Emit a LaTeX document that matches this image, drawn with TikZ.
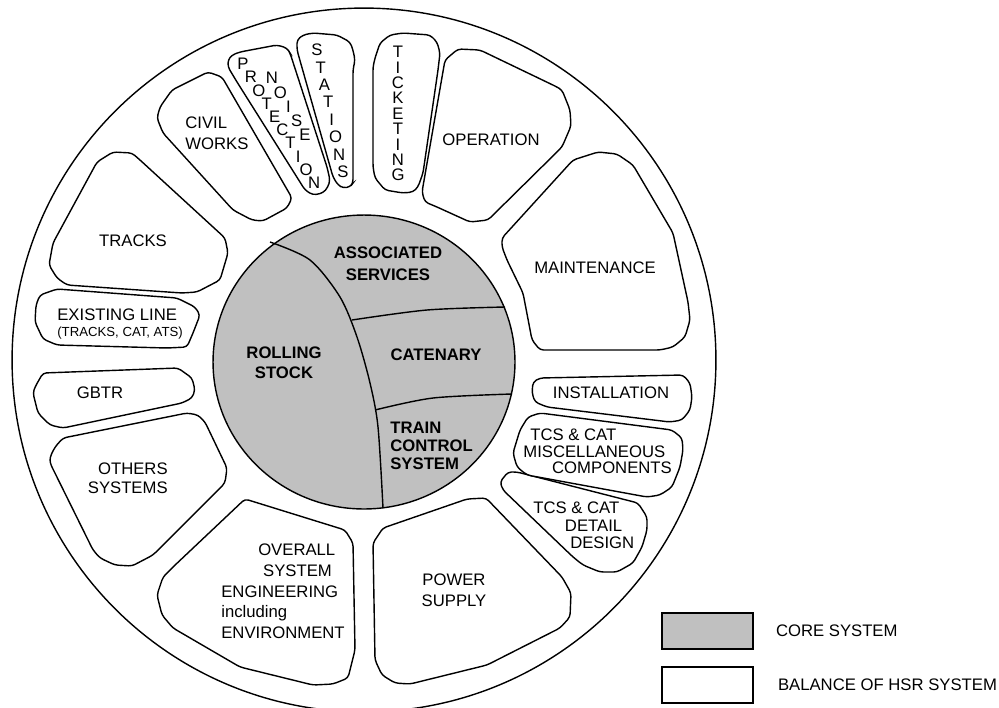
\documentclass[tikz,border=0pt]{standalone}
\usepackage{fontspec}
\setmainfont{Liberation Sans}
\usepackage{tikz}
\usetikzlibrary{positioning,calc}
\definecolor{coregray}{RGB}{192,192,192}
\tikzset{
part/.style = {draw, line width=0.8pt, fill=white, rounded corners=2pt},
core/.style = {draw, line width=0.8pt, fill=coregray},
split/.style = {draw, line width=0.8pt},
lbl/.style = {inner sep=0pt, align=center, font=\fontsize{9.5}{11.5}\selectfont},
corelbl/.style = {lbl, font=\bfseries\fontsize{9.5}{11.5}\selectfont},
letter/.style = {inner sep=0pt, font=\fontsize{9.5}{11}\selectfont},
legendbox/.style = {draw, line width=0.8pt, minimum width=1.82cm, minimum height=0.72cm}
}

\begin{document}
\begin{tikzpicture}[x=0.02cm, y=-0.02cm]
  \useasboundingbox (0,0) rectangle (999,707);
  \draw[line width=0.8pt] (364,360) circle [radius=7.04cm];

  \draw[part] (172,90) -- (208,72) -- (222,77) -- (292,198) -- (287,208) -- (263,221) -- (252,220) -- (233,210) -- (163,133) -- (157,118) -- (160,107) -- cycle;
  \draw[part] (97,162) -- (113,152) -- (132,153) -- (140,160) -- (225,238) -- (228,253) -- (220,280) -- (197,292) -- (182,293) -- (67,285) -- (57,278) -- (49,265) -- (53,243) -- cycle;
  \draw[part] (40,295) -- (57,289) -- (177,298) -- (195,307) -- (200,315) -- (193,333) -- (187,347) -- (167,348) -- (57,345) -- (43,339) -- (35,322) -- (36,305) -- cycle;
  \draw[part] (43,373) -- (178,368) -- (192,378) -- (195,390) -- (192,398) -- (182,403) -- (63,428) -- (50,425) -- (38,413) -- (33,393) -- (35,387) -- cycle;
  \draw[part] (55,447) -- (63,438) -- (187,413) -- (198,415) -- (205,422) -- (227,468) -- (225,483) -- (153,555) -- (132,566) -- (115,565) -- (100,558) -- (93,550) -- (50,463) -- (50,457) -- cycle;
  \draw[part] (245,499) -- (345,530) -- (353,543) -- (355,650) -- (348,678) -- (333,684) -- (313,685) -- (240,667) -- (173,628) -- (162,615) -- (157,595) -- (163,577) -- (173,567) -- cycle;
  \draw[part] (383,528) -- (467,499) -- (486,498) -- (562,577) -- (571,593) -- (570,617) -- (560,628) -- (487,665) -- (410,684) -- (395,683) -- (382,675) -- (375,660) -- (373,543) -- cycle;
  \draw[part] (508,472) -- (517,472) -- (638,503) -- (647,517) -- (647,530) -- (642,547) -- (633,563) -- (617,572) -- (600,572) -- (583,565) -- (573,557) -- (503,490) -- (500,482) -- cycle;
  \draw[part] (528,417) -- (540,413) -- (672,430) -- (682,438) -- (683,450) -- (680,467) -- (672,487) -- (660,495) -- (647,497) -- (527,475) -- (517,467) -- (513,453) -- (520,430) -- cycle;
  \draw[part] (540,378) -- (683,375) -- (690,383) -- (692,397) -- (690,410) -- (682,420) -- (670,422) -- (547,407) -- (535,402) -- (532,393) -- (533,382) -- cycle;
  \draw[part] (502,238) -- (573,160) -- (598,152) -- (617,154) -- (633,165) -- (673,233) -- (688,302) -- (690,320) -- (685,337) -- (673,347) -- (660,350) -- (540,350) -- (532,340) -- (523,293) -- (507,260) -- (502,247) -- cycle;
  \draw[part] (445,60) -- (458,49) -- (480,50) -- (557,87) -- (562,90) -- (570,110) -- (571,126) -- (562,147) -- (488,220) -- (470,222) -- (437,207) -- (425,202) -- (422,192) -- cycle;
  \draw[part] (380,43) -- (390,35) -- (403,33) -- (430,35) -- (437,42) -- (440,53) -- (438,70) -- (423,173) -- (418,187) -- (413,192) -- (403,193) -- (385,190) -- (375,178) -- (373,167) -- (373,67) -- (375,58) -- cycle;
  \draw[part] (303,35) -- (313,33) -- (337,35) -- (350,42) -- (353,50) -- (355,60) -- (353,70) -- (353,183) -- (350,187) -- (343,188) -- (338,185) -- (333,177) -- (297,50) -- (297,40) -- cycle;
  \draw[part] (232,55) -- (240,52) -- (277,45) -- (287,48) -- (290,53) -- (327,167) -- (330,180) -- (328,187) -- (323,193) -- (313,195) -- (305,190) -- (237,82) -- (228,67) -- (228,60) -- cycle;

  \draw[core] (364,362) ellipse [x radius=3.02cm, y radius=2.94cm];
  \draw[split] plot[smooth] coordinates {(270,242) (310,260) (340,297) (357,337) (370,383) (378,427) (383,508)};
  \draw[split] plot[smooth] coordinates {(352,320) (427,310) (505,307)};
  \draw[split] plot[smooth] coordinates {(375,410) (433,398) (512,394)};

  \node[corelbl, font=\bfseries\fontsize{9.5}{12.5}\selectfont] (assoc) at (388,264) {ASSOCIATED\\SERVICES};
  \node[corelbl] (rolling) at (284,363) {ROLLING\\STOCK};
  \node[corelbl] (caten) at (436,355) {CATENARY};
  \node[corelbl, align=left, anchor=west, font=\bfseries\fontsize{9.5}{10.2}\selectfont] (tcs) at (390,446) {TRAIN\\CONTROL\\SYSTEM};

  \node[lbl, align=left, anchor=west, font=\fontsize{9.5}{11.9}\selectfont] (civil) at (185,133.5) {CIVIL\\WORKS};
  \node[lbl] (tracks) at (133,241) {TRACKS};
  \node[lbl, align=left, anchor=west, font=\fontsize{9.5}{9}\selectfont] (exist) at (57,324) {EXISTING LINE\\{\fontsize{7.5}{9}\selectfont(TRACKS, CAT, ATS)}};
  \node[lbl] (gbtr) at (100,393) {GBTR};
  \node[lbl, align=right, anchor=east, font=\fontsize{9.5}{10.8}\selectfont] (others) at (168,478.5) {OTHERS\\SYSTEMS};
  \node[lbl, align=left, anchor=west, font=\fontsize{9.5}{11.8}\selectfont] (overall) at (221,591.5) {\hspace*{21pt}OVERALL\\\hspace*{23.8pt}SYSTEM\\ENGINEERING\\including\\ENVIRONMENT};
  \node[lbl, font=\fontsize{9.5}{11.9}\selectfont] (power) at (454,590.5) {POWER\\SUPPLY};
  \node[lbl, align=left, anchor=west, font=\fontsize{9.5}{9.9}\selectfont] (detail) at (533,525.5) {TCS \& CAT\\\hspace*{18pt}DETAIL\\\hspace*{21pt}DESIGN};
  \node[lbl, align=left, anchor=west, font=\fontsize{9.5}{9.4}\selectfont] (misc) at (523,451.5) {\hspace*{4pt}TCS \& CAT\\MISCELLANEOUS\\\hspace*{16.4pt}COMPONENTS};
  \node[lbl] (install) at (611,393) {INSTALLATION};
  \node[lbl] (maint) at (595,268) {MAINTENANCE};
  \node[lbl] (oper) at (491,140) {OPERATION};

  \foreach \ch [count=\i from 0] in {T,I,C,K,E,T,I,N,G}
    \node[letter] (tick\i) at (398,{52+15.4*\i}) {\ch};
  \foreach \ch [count=\i from 0] in {S,T,A,T,I,O,N,S}
    \node[letter] (stat\i) at ({317+3.7*\i},{50+17.4*\i}) {\ch};
  \foreach \ch [count=\i from 0] in {N,O,I,S,E}
    \node[letter] (noise\i) at ({272+8.25*\i},{78+14.25*\i}) {\ch};
  \foreach \ch [count=\i from 0] in {P,R,O,T,E,C,T,I,O,N}
    \node[letter] (prot\i) at ({243+7.9*\i},{64+13.2*\i}) {\ch};

  \node[legendbox, fill=coregray] (coresq) at (707.5,631) {};
  \node[legendbox] (balsq) at (707.5,685) {};
  \node[lbl, right=0.44cm of coresq] (coretext) {CORE SYSTEM};
  \node[lbl, right=0.48cm of balsq] (baltext) {BALANCE OF HSR SYSTEM};
\end{tikzpicture}
\end{document}
